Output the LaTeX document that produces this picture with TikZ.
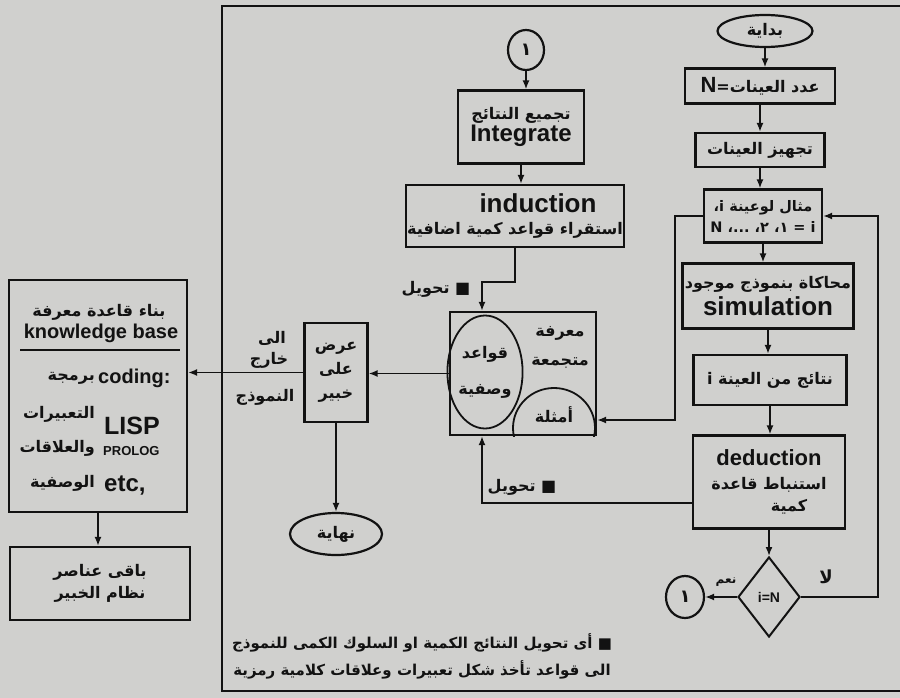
\documentclass[tikz,border=0pt]{standalone}
\usepackage{fontspec}
\setmainfont{DejaVu Sans}
\newfontfamily\arf[Script=Arabic]{DejaVu Sans}
\newfontfamily\latf{Liberation Sans}
\TeXXeTstate=1
\usetikzlibrary{arrows.meta,shapes.geometric}
\definecolor{paper}{RGB}{208,208,206}
\definecolor{ink}{RGB}{18,18,18}
\newcommand\fsz[2]{\fontsize{#1}{#2}\selectfont}
\newcommand\LT[1]{{\latf\bfseries #1}}
\tikzset{
  bx/.style={draw=ink, line width=2.2pt, inner sep=1pt, align=center, text=ink, font=\arf\bfseries\fsz{16}{22}},
  ov/.style={ellipse, draw=ink, line width=2.2pt, inner sep=0pt, text=ink, font=\arf\bfseries\fsz{16}{18}},
  dm/.style={diamond, draw=ink, line width=2pt, inner sep=0pt, text=ink, font=\latf\bfseries\fsz{14}{16}},
  ln/.style={draw=ink, line width=1.7pt},
  arw/.style={ln, -{Latex[length=9pt,width=7pt]}},
  lbl/.style={inner sep=0pt, text=ink, font=\arf\bfseries\fsz{16}{18}},
  mainframe/.style={draw=ink, line width=2.4pt},
}
\begin{document}
\begin{tikzpicture}[x=1pt,y=-1pt]
\useasboundingbox (0,0) rectangle (900,698);
\fill[paper] (0,0) rectangle (900,698);
\draw[mainframe] (906,6) -- (222,6) -- (222,691) -- (906,691);

% right column
\node[ov, minimum width=95, minimum height=32] (start) at (765,31) {بداية};
\node[bx, minimum width=150, minimum height=35] (n1) at (760,86) {\beginR عدد العينات=\beginL\LT{\fsz{22}{24}N}\endL\endR};
\node[bx, minimum width=129, minimum height=34] (n2) at (760,150) {\beginR تجهيز العينات\endR};
\node[bx, minimum width=118, minimum height=53, font=\arf\bfseries\fsz{14.5}{21}] (n3) at (763,216) {\beginR مثال لوعينة \beginL i\endL،\endR\\\beginR \beginL i\endL{} = ١، ٢، ...، \beginL N\endL\endR};
\node[bx, minimum width=171, minimum height=65] (n4) at (768,296) {\beginR محاكاة بنموذج موجود\endR\\[4pt]\LT{\fsz{26}{24}simulation}};
\node[bx, minimum width=153, minimum height=50] (n5) at (770,380) {\beginR نتائج من العينة \beginL i\endL\endR};
\node[bx, minimum width=152, minimum height=93] (n6) at (769,482) {\LT{\fsz{22}{24}deduction}\\[2pt]\beginR استنباط قاعدة\endR\\\hspace*{40pt}كمية};
\node[dm, minimum width=62, minimum height=80] (dia) at (769,597) {i=N};
\node[ov, minimum width=38, minimum height=42, font=\arf\bfseries\fsz{18}{20}] (c1) at (685,597) {١};

% middle column
\node[ov, minimum width=36, minimum height=40, font=\arf\bfseries\fsz{18}{20}] (c2) at (526,50) {١};
\node[bx, minimum width=126, minimum height=73] (integ) at (521,127) {\beginR تجميع النتائج\endR\\\LT{\fsz{24}{26}Integrate}};
\node[bx, minimum width=195, minimum height=62] (induc) at (515,216) {\hspace*{46pt}\LT{\fsz{26}{28}induction}\\\beginR استقراء قواعد كمية اضافية\endR};
\node[draw=ink, line width=2.2pt, minimum width=146, minimum height=123, inner sep=0pt] (kb) at (523,373.5) {};
\node[ellipse, draw=ink, line width=1.8pt, minimum width=67, minimum height=113, inner sep=0pt, align=center, text=ink, font=\arf\bfseries\fsz{16}{36}] (rules) at (485,372) {قواعد\\وصفية};
\begin{scope}
  \clip (kb.south west) rectangle (kb.north east);
  \draw[ink, line width=1.8pt] (554,428) ellipse [x radius=41, y radius=40];
\end{scope}
\node[lbl] (ex) at (554,415) {أمثلة};
\node[lbl, align=center, font=\arf\bfseries\fsz{16}{29}] (acc) at (560,347) {معرفة\\متجمعة};
\node[bx, minimum width=63, minimum height=99, font=\arf\bfseries\fsz{16}{24}] (show) at (336,372.5) {عرض\\على\\خبير};
\node[ov, minimum width=92, minimum height=42] (finish) at (336,534) {نهاية};

% labels
\node[lbl] (tr1) at (436,289) {\beginR ■ تحويل\endR};
\node[lbl] (tr2) at (522,487) {\beginR ■ تحويل\endR};
\node[lbl] (yes) at (726,582) {\fsz{12}{14}نعم};
\node[lbl] (no) at (826,577) {\fsz{18}{20}لا};
\node[lbl] (o1) at (272,338) {الى};
\node[lbl] (o2) at (269,360) {خارج};
\node[lbl] (o3) at (265,397) {النموذج};

% left column
\node[draw=ink, line width=2.2pt, minimum width=178, minimum height=232, inner sep=0pt] (kbase) at (98,396) {};
\node[lbl] (kb1) at (99,312) {\beginR بناء قاعدة معرفة\endR};
\node[lbl, font=\latf\bfseries\fsz{20}{22}] (kb2) at (101,333) {knowledge base};
\draw[ln] (20,350) -- (180,350);
\node[lbl, anchor=east] (a1) at (95,378) {برمجة};
\node[lbl, anchor=east] (a2) at (95,414) {التعبيرات};
\node[lbl, anchor=east] (a3) at (95,448) {والعلاقات};
\node[lbl, anchor=east] (a4) at (95,483) {الوصفية};
\node[lbl, anchor=west, font=\latf\bfseries\fsz{20}{22}] (l1) at (98,378) {coding:};
\node[lbl, anchor=west, font=\latf\bfseries\fsz{25}{27}] (l2) at (104,426) {LISP};
\node[lbl, anchor=west, font=\latf\bfseries\fsz{13}{14}] (l3) at (103,451) {PROLOG};
\node[lbl, anchor=west, font=\latf\bfseries\fsz{24}{26}] (l4) at (104,486) {etc,};
\node[bx, minimum width=180, minimum height=73, font=\arf\bfseries\fsz{16}{22}] (rest) at (100,583.5) {\beginR باقى عناصر\endR\\\beginR نظام الخبير\endR};

% footnote
\node[lbl, font=\arf\bfseries\fsz{15}{16}] (f1) at (422,643) {\beginR ■ أى تحويل النتائج الكمية او السلوك الكمى للنموذج\endR};
\node[lbl, font=\arf\bfseries\fsz{15}{16}] (f2) at (422,670) {\beginR الى قواعد تأخذ شكل تعبيرات وعلاقات كلامية رمزية\endR};

% connectors
\draw[arw] (start.south) -- (start.south |- n1.north);
\draw[arw] (n1.south) -- (n1.south |- n2.north);
\draw[arw] (n2.south) -- (n2.south |- n3.north);
\draw[arw] (n3.south) -- (n3.south |- n4.north);
\draw[arw] (n4.south) -- (n4.south |- n5.north);
\draw[arw] (n5.south) -- (n5.south |- n6.north);
\draw[arw] (n6.south) -- (n6.south |- dia.north);
\draw[arw] (dia.west) -- (c1.east);
\coordinate (rt) at (878,597);
\draw[arw] (dia.east) -- (rt) |- (n3.east);
\coordinate (lf) at (675,420);
\draw[arw] (n3.west) -| (lf) -- (lf -| kb.east);
\coordinate (d1) at (482,503);
\draw[arw] (n6.west |- d1) -- (d1) -- (d1 |- kb.south);
\draw[arw] (c2.south) -- (c2.south |- integ.north);
\draw[arw] (integ.south) -- (integ.south |- induc.north);
\coordinate (t1) at (515,282);
\coordinate (t2) at (482,282);
\draw[arw] (induc.south) -- (t1) -- (t2) -- (t2 |- kb.north);
\draw[arw] (kb.west) -- (kb.west -| show.east);
\draw[arw] (show.west) -- (show.west -| kbase.east);
\draw[arw] (show.south) -- (finish.north);
\draw[arw] (kbase.south) -- (kbase.south |- rest.north);
\end{tikzpicture}
\end{document}
